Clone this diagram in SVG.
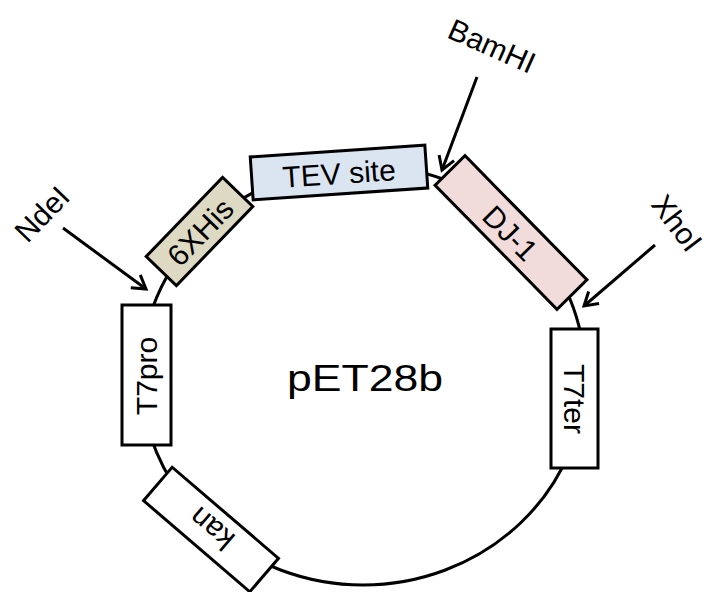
<svg xmlns="http://www.w3.org/2000/svg" width="711" height="592" viewBox="0 0 711 592">
<style>
.bb{stroke:#000;stroke-width:3}
.lb{font-family:"Liberation Sans",Arial,sans-serif;font-size:30px;fill:#000;text-anchor:middle;dominant-baseline:central}
.ar{stroke:#000;stroke-width:3;fill:none}
</style>
<defs>
<marker id="ah" markerUnits="userSpaceOnUse" markerWidth="30" markerHeight="30" refX="0" refY="0" viewBox="-15 -15 30 30" orient="auto">
<path d="M-13,-8 L0,0 L-13,8" fill="none" stroke="#000" stroke-width="3"/>
</marker>
</defs>
<rect width="711" height="592" fill="#fff"/>
<g id="plasmid">
<ellipse cx="363" cy="375" rx="222" ry="210" fill="none" stroke="#000" stroke-width="3"/>
<text class="lb" x="365" y="378" style="font-size:37px" textLength="156" lengthAdjust="spacingAndGlyphs">pET28b</text>
</g>
<g id="connectors">
<line class="ar" x1="63" y1="228" x2="146" y2="289" marker-end="url(#ah)"/>
<line class="ar" x1="477" y1="77" x2="442" y2="170" marker-end="url(#ah)"/>
<line class="ar" x1="655" y1="245" x2="584" y2="306" marker-end="url(#ah)"/>
</g>
<g id="his">
<g transform="translate(199.5,231.5) rotate(-46)">
<rect class="bb" x="-55" y="-21" width="110" height="42" fill="#ddd9c3"/>
<text class="lb" x="0" y="1">6XHis</text>
</g>
</g>
<g id="tev">
<g transform="translate(339,172.5) rotate(-3.9)">
<rect class="bb" x="-87.5" y="-21.5" width="175" height="43" fill="#dbe5f1"/>
<text class="lb" x="0" y="1">TEV site</text>
</g>
</g>
<g id="dj1">
<g transform="translate(511,232.5) rotate(45.5)">
<rect class="bb" x="-87" y="-21" width="174" height="42" fill="#f2dcdb"/>
<text class="lb" x="0" y="1">DJ-1</text>
</g>
</g>
<g id="t7pro">
<rect class="bb" x="122" y="305" width="49" height="140" fill="#fff"/>
<text class="lb" transform="translate(146.5,376) rotate(-90)">T7pro</text>
</g>
<g id="t7ter">
<rect class="bb" x="551" y="329" width="47" height="139" fill="#fff"/>
<text class="lb" transform="translate(574.5,399) rotate(90)">T7ter</text>
</g>
<g id="kan">
<g transform="translate(211,529.5) rotate(40.6)">
<rect class="bb" x="-70" y="-22" width="140" height="44" fill="#fff"/>
<text class="lb" transform="rotate(180)" x="0" y="1">kan</text>
</g>
</g>
<g id="ndei"><text class="lb" transform="translate(42,214) rotate(-46)">NdeI</text></g>
<g id="bamhi"><text class="lb" transform="translate(492,46) rotate(24)">BamHI</text></g>
<g id="xhoi"><text class="lb" transform="translate(677,223) rotate(53)">XhoI</text></g>
</svg>
